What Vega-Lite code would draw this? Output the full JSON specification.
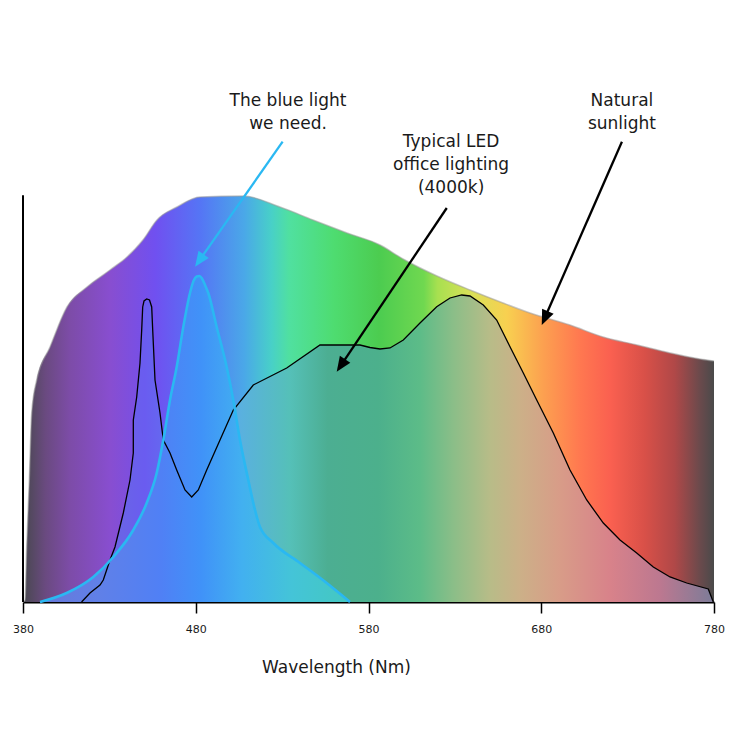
{
  "$schema": "https://vega.github.io/schema/vega-lite/v6.json",
  "width": 691,
  "height": 602,
  "autosize": {"type": "none"},
  "padding": {"left": 23, "top": 0, "right": 26, "bottom": 138},
  "background": "white",
  "config": {"view": {"stroke": null}, "font": "DejaVu Sans"},
  "datasets": {
    "sun": [
      {"x": 380.2, "y": 0}, {"x": 381.16, "y": 0.49}, {"x": 382.14, "y": 13.52}, {"x": 383.65, "y": 29.99},
      {"x": 385.04, "y": 46.47}, {"x": 387.93, "y": 54.58}, {"x": 395.63, "y": 62.69}, {"x": 405.47, "y": 72.53},
      {"x": 417.05, "y": 77.44}, {"x": 430.36, "y": 81.62}, {"x": 440.2, "y": 84.82}, {"x": 449.46, "y": 89.0},
      {"x": 457.57, "y": 93.92}, {"x": 469.15, "y": 97.11}, {"x": 482.46, "y": 99.57}, {"x": 507.35, "y": 99.83},
      {"x": 528.77, "y": 97.11}, {"x": 547.87, "y": 93.92}, {"x": 567.55, "y": 90.72}, {"x": 586.66, "y": 87.77},
      {"x": 599.97, "y": 84.33}, {"x": 619.65, "y": 80.15}, {"x": 638.76, "y": 76.71}, {"x": 657.86, "y": 73.51},
      {"x": 673.49, "y": 71.05}, {"x": 696.64, "y": 68.1}, {"x": 715.74, "y": 65.15}, {"x": 735.42, "y": 63.18},
      {"x": 754.53, "y": 61.22}, {"x": 771.89, "y": 59.74}, {"x": 780, "y": 59.25}
    ],
    "led": [
      {"x": 413.9, "y": 0}, {"x": 418.78, "y": 2.21}, {"x": 424.57, "y": 4.18}, {"x": 426.48, "y": 5.41},
      {"x": 430.36, "y": 10.33}, {"x": 433.25, "y": 13.52}, {"x": 438.06, "y": 21.88}, {"x": 441.94, "y": 29.99},
      {"x": 443.85, "y": 36.63}, {"x": 443.86, "y": 44.74}, {"x": 445.82, "y": 50.4}, {"x": 447.73, "y": 58.76},
      {"x": 448.71, "y": 66.87}, {"x": 449.29, "y": 72.53}, {"x": 450.04, "y": 74.0}, {"x": 451.61, "y": 74.49},
      {"x": 453.23, "y": 74.25}, {"x": 454.5, "y": 72.53}, {"x": 455.08, "y": 66.87}, {"x": 456.41, "y": 54.58},
      {"x": 459.31, "y": 46.47}, {"x": 461.22, "y": 39.83}, {"x": 465.1, "y": 36.63}, {"x": 468.97, "y": 32.45},
      {"x": 473.78, "y": 27.54}, {"x": 477.66, "y": 25.81}, {"x": 481.48, "y": 27.54}, {"x": 486.34, "y": 32.45},
      {"x": 494.04, "y": 39.83}, {"x": 501.74, "y": 47.2}, {"x": 513.31, "y": 53.35}, {"x": 532.65, "y": 57.53},
      {"x": 551.92, "y": 63.18}, {"x": 575.08, "y": 63.18}, {"x": 580.87, "y": 62.57}, {"x": 586.66, "y": 62.2},
      {"x": 592.45, "y": 62.45}, {"x": 600.15, "y": 64.41}, {"x": 609.81, "y": 68.59}, {"x": 619.48, "y": 72.6},
      {"x": 627.18, "y": 74.74}, {"x": 633.95, "y": 75.48}, {"x": 638.76, "y": 75.23}, {"x": 646.46, "y": 73.02},
      {"x": 654.21, "y": 69.33}, {"x": 661.91, "y": 62.77}, {"x": 669.61, "y": 56.3}, {"x": 677.37, "y": 49.66},
      {"x": 686.98, "y": 41.55}, {"x": 696.64, "y": 32.45}, {"x": 706.31, "y": 25.08}, {"x": 715.92, "y": 19.42},
      {"x": 725.59, "y": 15.24}, {"x": 735.25, "y": 12.05}, {"x": 744.86, "y": 8.6}, {"x": 754.53, "y": 6.15},
      {"x": 764.2, "y": 4.67}, {"x": 776.7, "y": 3.2}, {"x": 779.59, "y": 0}
    ],
    "blue": [
      {"x": 389.84, "y": 0}, {"x": 405.3, "y": 2.21}, {"x": 420.69, "y": 6.15}, {"x": 432.27, "y": 11.06},
      {"x": 443.85, "y": 17.7}, {"x": 451.61, "y": 24.34}, {"x": 457.4, "y": 31.71}, {"x": 461.22, "y": 39.83},
      {"x": 465.1, "y": 49.66}, {"x": 468.97, "y": 57.77}, {"x": 472.79, "y": 67.61}, {"x": 476.67, "y": 75.97},
      {"x": 478.7, "y": 78.92}, {"x": 480.55, "y": 80.02}, {"x": 482.17, "y": 80.15}, {"x": 483.44, "y": 79.66},
      {"x": 485.35, "y": 77.94}, {"x": 487.26, "y": 75.97}, {"x": 492.13, "y": 67.61}, {"x": 497.92, "y": 57.77},
      {"x": 501.74, "y": 49.66}, {"x": 505.61, "y": 39.83}, {"x": 510.42, "y": 29.99}, {"x": 514.3, "y": 22.62},
      {"x": 517.19, "y": 18.44}, {"x": 524.89, "y": 14.51}, {"x": 540.35, "y": 9.59}, {"x": 555.8, "y": 4.67},
      {"x": 569.29, "y": 0}
    ],
    "arrows": [
      {"name": "blue", "x": 530.3, "y": 113.17, "xe": 482.87, "ye": 84.45, "xt": 479.6, "yt": 82.43},
      {"name": "led", "x": 625.3, "y": 96.86, "xe": 564.83, "ye": 58.66, "xt": 561.6, "yt": 56.62},
      {"name": "sun", "x": 726.7, "y": 113.17, "xe": 682.58, "ye": 70.36, "xt": 680.3, "yt": 68.1}
    ],
    "labels": [
      {"text": "The blue light", "x": 533.4, "y": 122.0},
      {"text": "we need.", "x": 533.4, "y": 116.2},
      {"text": "Typical LED", "x": 627.8, "y": 111.98},
      {"text": "office lighting", "x": 627.8, "y": 106.21},
      {"text": "(4000k)", "x": 627.8, "y": 100.43},
      {"text": "Natural", "x": 726.7, "y": 121.94},
      {"text": "sunlight", "x": 726.7, "y": 116.21}
    ],
    "yaxis": [{"x": 380, "y": 0, "y2": 100}]
  },
  "layer": [
    {
      "data": {"name": "sun"},
      "mark": {
        "type": "area", "interpolate": "monotone",
        "fill": {"gradient": "linear", "x1": 0, "x2": 1, "y1": 0, "y2": 0, "stops": [
          {"offset": 0, "color": "#48484f"}, {"offset": 0.032, "color": "#6a4a80"}, {"offset": 0.068, "color": "#7d4ca8"},
          {"offset": 0.126, "color": "#884ed0"}, {"offset": 0.191, "color": "#7050f0"}, {"offset": 0.256, "color": "#5575f5"},
          {"offset": 0.32, "color": "#4aa8e8"}, {"offset": 0.359, "color": "#48d0c8"}, {"offset": 0.385, "color": "#50e0a0"},
          {"offset": 0.45, "color": "#4edc70"}, {"offset": 0.515, "color": "#4ccc50"}, {"offset": 0.58, "color": "#70d850"},
          {"offset": 0.6, "color": "#a8e050"}, {"offset": 0.647, "color": "#d8e058"}, {"offset": 0.7, "color": "#f8d050"},
          {"offset": 0.753, "color": "#fca050"}, {"offset": 0.806, "color": "#ff7850"}, {"offset": 0.85, "color": "#fa6050"},
          {"offset": 0.9, "color": "#d85048"}, {"offset": 0.943, "color": "#b04848"}, {"offset": 0.98, "color": "#6a4a4c"},
          {"offset": 1, "color": "#4a4a4a"}
        ]}
      },
      "encoding": {
        "x": {"field": "x", "type": "quantitative", "scale": {"domain": [380, 780], "nice": false, "zero": false},
          "axis": {
            "values": [380, 480, 580, 680, 780], "grid": false, "labelFlush": false,
            "domainColor": "#000000", "domainWidth": 2, "tickColor": "#000000", "tickWidth": 1.5, "tickSize": 11,
            "labelFontSize": 11, "labelFont": "DejaVu Sans", "labelColor": "#1a1a1a", "labelPadding": 10,
            "title": "Wavelength (Nm)", "titleFont": "DejaVu Sans", "titleFontSize": 17, "titleFontWeight": "normal",
            "titleColor": "#1a1a1a", "titleX": 313, "titleY": 70, "titleBaseline": "alphabetic", "titleAlign": "center"
          }},
        "y": {"field": "y", "type": "quantitative", "scale": {"domain": [0, 148], "nice": false}, "axis": null}
      }
    },
    {
      "data": {"name": "sun"},
      "mark": {"type": "line", "interpolate": "monotone", "stroke": "#9a9a9a", "strokeOpacity": 0.55, "strokeWidth": 1.5},
      "encoding": {
        "x": {"field": "x", "type": "quantitative", "scale": {"domain": [380, 780], "nice": false, "zero": false}},
        "y": {"field": "y", "type": "quantitative", "scale": {"domain": [0, 148], "nice": false}, "axis": null}
      }
    },
    {
      "data": {"name": "led"},
      "mark": {
        "type": "area",
        "fill": {"gradient": "linear", "x1": 0, "x2": 1, "y1": 0, "y2": 0, "stops": [
          {"offset": 0, "color": "#6a70d8"}, {"offset": 0.1, "color": "#6a5cf0"}, {"offset": 0.19, "color": "#5a80f0"},
          {"offset": 0.25, "color": "#5ab0e0"}, {"offset": 0.33, "color": "#55c0b8"}, {"offset": 0.39, "color": "#4cae92"},
          {"offset": 0.47, "color": "#4cb08c"}, {"offset": 0.535, "color": "#5cbc88"}, {"offset": 0.59, "color": "#8cbe88"},
          {"offset": 0.647, "color": "#b8bc88"}, {"offset": 0.694, "color": "#ccb088"}, {"offset": 0.757, "color": "#d89c88"},
          {"offset": 0.837, "color": "#d8828a"}, {"offset": 0.916, "color": "#bc7890"}, {"offset": 1, "color": "#7c7c98"}
        ]}
      },
      "encoding": {
        "x": {"field": "x", "type": "quantitative", "scale": {"domain": [380, 780], "nice": false, "zero": false}},
        "y": {"field": "y", "type": "quantitative", "scale": {"domain": [0, 148], "nice": false}, "axis": null}
      }
    },
    {
      "data": {"name": "blue"},
      "mark": {
        "type": "area", "interpolate": "monotone",
        "fill": {"gradient": "linear", "x1": 0, "x2": 1, "y1": 0, "y2": 0, "stops": [
          {"offset": 0, "color": "#6878d8"}, {"offset": 0.19, "color": "#6080e8"}, {"offset": 0.39, "color": "#5080f5"},
          {"offset": 0.52, "color": "#4092f8"}, {"offset": 0.65, "color": "#42b0f0"}, {"offset": 0.81, "color": "#44c4d8"},
          {"offset": 1, "color": "#44c8c0"}
        ]}
      },
      "encoding": {
        "x": {"field": "x", "type": "quantitative", "scale": {"domain": [380, 780], "nice": false, "zero": false}},
        "y": {"field": "y", "type": "quantitative", "scale": {"domain": [0, 148], "nice": false}, "axis": null}
      }
    },
    {
      "data": {"name": "led"},
      "mark": {"type": "line", "stroke": "#000000", "strokeWidth": 1.3},
      "encoding": {
        "x": {"field": "x", "type": "quantitative", "scale": {"domain": [380, 780], "nice": false, "zero": false}},
        "y": {"field": "y", "type": "quantitative", "scale": {"domain": [0, 148], "nice": false}, "axis": null}
      }
    },
    {
      "data": {"name": "blue"},
      "mark": {"type": "line", "interpolate": "monotone", "stroke": "#2ab8f2", "strokeWidth": 2.6},
      "encoding": {
        "x": {"field": "x", "type": "quantitative", "scale": {"domain": [380, 780], "nice": false, "zero": false}},
        "y": {"field": "y", "type": "quantitative", "scale": {"domain": [0, 148], "nice": false}, "axis": null}
      }
    },
    {
      "data": {"name": "yaxis"},
      "mark": {"type": "rule", "stroke": "#000000", "strokeWidth": 2},
      "encoding": {
        "x": {"field": "x", "type": "quantitative", "scale": {"domain": [380, 780], "nice": false, "zero": false}},
        "y": {"field": "y", "type": "quantitative", "scale": {"domain": [0, 148], "nice": false}, "axis": null},
        "y2": {"field": "y2"}
      }
    },
    {
      "data": {"name": "arrows"},
      "mark": {"type": "rule", "strokeWidth": 2.3},
      "encoding": {
        "x": {"field": "x", "type": "quantitative", "scale": {"domain": [380, 780], "nice": false, "zero": false}},
        "y": {"field": "y", "type": "quantitative", "scale": {"domain": [0, 148], "nice": false}, "axis": null},
        "x2": {"field": "xe"},
        "y2": {"field": "ye"},
        "color": {"field": "name", "type": "nominal", "scale": {"domain": ["blue", "led", "sun"], "range": ["#2ab8f2", "#000000", "#000000"]}, "legend": null}
      }
    },
    {
      "data": {"name": "arrows"},
      "transform": [{"filter": "datum.name === 'blue'"}],
      "mark": {"type": "point", "shape": "M0,0L0.42,1L-0.42,1Z", "size": 900, "angle": 215, "filled": true, "opacity": 1, "color": "#2ab8f2"},
      "encoding": {
        "x": {"field": "xt", "type": "quantitative", "scale": {"domain": [380, 780], "nice": false, "zero": false}},
        "y": {"field": "yt", "type": "quantitative", "scale": {"domain": [0, 148], "nice": false}, "axis": null}
      }
    },
    {
      "data": {"name": "arrows"},
      "transform": [{"filter": "datum.name === 'led'"}],
      "mark": {"type": "point", "shape": "M0,0L0.42,1L-0.42,1Z", "size": 900, "angle": 214, "filled": true, "opacity": 1, "color": "#000000"},
      "encoding": {
        "x": {"field": "xt", "type": "quantitative", "scale": {"domain": [380, 780], "nice": false, "zero": false}},
        "y": {"field": "yt", "type": "quantitative", "scale": {"domain": [0, 148], "nice": false}, "axis": null}
      }
    },
    {
      "data": {"name": "arrows"},
      "transform": [{"filter": "datum.name === 'sun'"}],
      "mark": {"type": "point", "shape": "M0,0L0.42,1L-0.42,1Z", "size": 900, "angle": 204, "filled": true, "opacity": 1, "color": "#000000"},
      "encoding": {
        "x": {"field": "xt", "type": "quantitative", "scale": {"domain": [380, 780], "nice": false, "zero": false}},
        "y": {"field": "yt", "type": "quantitative", "scale": {"domain": [0, 148], "nice": false}, "axis": null}
      }
    },
    {
      "data": {"name": "labels"},
      "mark": {"type": "text", "align": "center", "baseline": "alphabetic", "font": "DejaVu Sans", "fontSize": 17, "color": "#1a1a1a"},
      "encoding": {
        "x": {"field": "x", "type": "quantitative", "scale": {"domain": [380, 780], "nice": false, "zero": false}},
        "y": {"field": "y", "type": "quantitative", "scale": {"domain": [0, 148], "nice": false}, "axis": null},
        "text": {"field": "text", "type": "nominal"}
      }
    }
  ]
}
